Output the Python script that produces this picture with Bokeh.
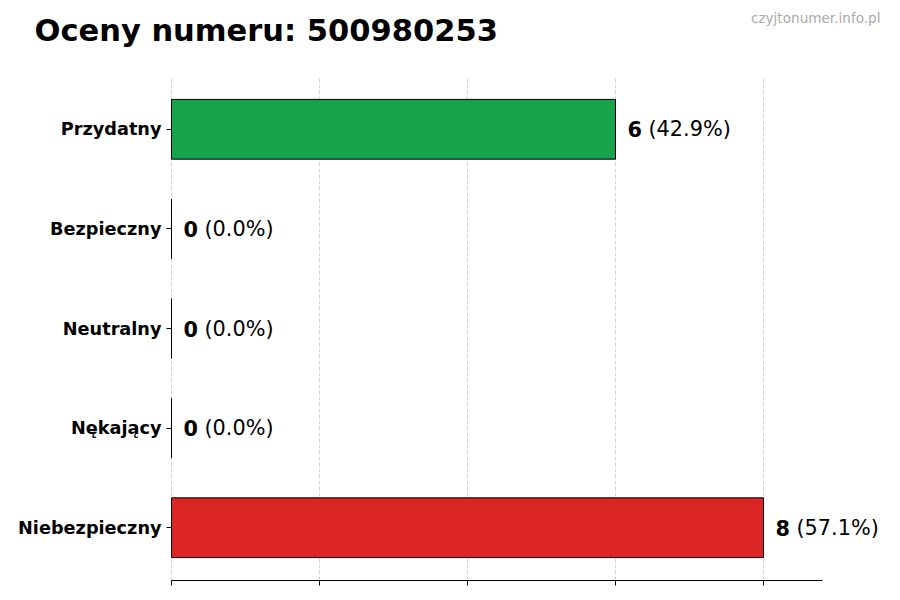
from bokeh.plotting import figure
from bokeh.layouts import column
from bokeh.models import ColumnDataSource, Range1d, FixedTicker, Label
from bokeh.core.properties import value
from bokeh.embed import file_html
from bokeh.resources import INLINE

title_text = "Oceny numeru: 500980253"
watermark = "czyjtonumer.info.pl"
categories = ["Niebezpieczny", "Nękający", "Neutralny", "Bezpieczny", "Przydatny"]
counts = [8, 0, 0, 0, 6]
colors = ["#dc2626", "#f97316", "#9ca3af", "#3b82f6", "#16a34a"]
x_ticks = [0, 2, 4, 6, 8]
x_axis_limit = 8.8

total = sum(counts)
ypos = list(range(len(categories)))
src = ColumnDataSource(dict(
    y=ypos,
    count=counts,
    color=colors,
    num=[str(c) for c in counts],
    pct=["(%.1f%%)" % (100.0 * c / total) for c in counts],
))

FONT = "DejaVu Sans"
W = 884
HEAD_H = 76
LEFT_PX = 171          # pixels left of the value 0
PX_PER_UNIT = 74.0

# ---- header strip (title + watermark), a plain canvas in pixel units ----
head = figure(width=W, height=HEAD_H, output_backend="svg", toolbar_location=None,
              x_range=Range1d(0, W), y_range=Range1d(HEAD_H, 0),
              x_axis_location=None, y_axis_location=None,
              min_border_left=0, min_border_right=0, min_border_top=0,
              min_border_bottom=0)
head.outline_line_color = None
head.grid.grid_line_color = None
head.background_fill_color = "white"
head.border_fill_color = "white"
head.add_layout(Label(x=34, y=30, text=title_text, text_font=FONT,
                      text_font_style="bold", text_font_size="30.5px",
                      text_color="black", text_baseline="alphabetic"))
head.add_layout(Label(x=880, y=17.5, text=watermark, text_font=FONT,
                      text_font_size="13.6px", text_color="#aaaaaa",
                      text_align="right", text_baseline="alphabetic"))

# ---- main chart ----
p = figure(width=W, height=514, output_backend="svg", toolbar_location=None,
           x_range=Range1d(-LEFT_PX / PX_PER_UNIT, (W - LEFT_PX) / PX_PER_UNIT),
           y_range=Range1d(-0.53, 4.53),
           min_border_left=0, min_border_right=0, min_border_top=0,
           min_border_bottom=10)
p.outline_line_color = None
p.background_fill_color = "white"
p.border_fill_color = "white"

p.hbar(y="y", left=0, right="count", height=0.6, fill_color="color",
       line_color="black", line_width=1, source=src)

p.text(x="count", y="y", text="num", x_offset=12, text_baseline="middle",
       text_font=value(FONT), text_font_style="bold", text_font_size="20.8px",
       text_color="black", source=src)
p.text(x="count", y="y", text="pct", x_offset=33, text_baseline="middle",
       text_font=value(FONT), text_font_size="20.8px", text_color="black",
       source=src)

p.xaxis.ticker = FixedTicker(ticks=x_ticks)
p.xaxis.bounds = (0, x_axis_limit)
p.xaxis.major_label_text_font_size = "0px"
p.xaxis.major_label_standoff = 0
p.xaxis.axis_line_color = "black"
p.xaxis.major_tick_out = 5
p.xaxis.major_tick_in = 0
p.xaxis.minor_tick_line_color = None

p.yaxis.fixed_location = 0
p.yaxis.ticker = FixedTicker(ticks=ypos)
p.yaxis.major_label_overrides = {i: c for i, c in enumerate(categories)}
p.yaxis.axis_line_color = None
p.yaxis.major_tick_out = 5
p.yaxis.major_tick_in = 0
p.yaxis.minor_tick_line_color = None
p.yaxis.major_label_standoff = 5
p.yaxis.major_label_text_font = FONT
p.yaxis.major_label_text_font_style = "bold"
p.yaxis.major_label_text_font_size = "17.7px"
p.yaxis.major_label_text_color = "black"

p.xgrid.grid_line_color = "#d4d4d4"
p.xgrid.grid_line_dash = "4 2"
p.xgrid.ticker = FixedTicker(ticks=x_ticks)
p.xgrid.bounds = (-1, 10)
p.ygrid.grid_line_color = None

layout = column(head, p, spacing=0)
open("out.html", "w").write(file_html(layout, INLINE))
